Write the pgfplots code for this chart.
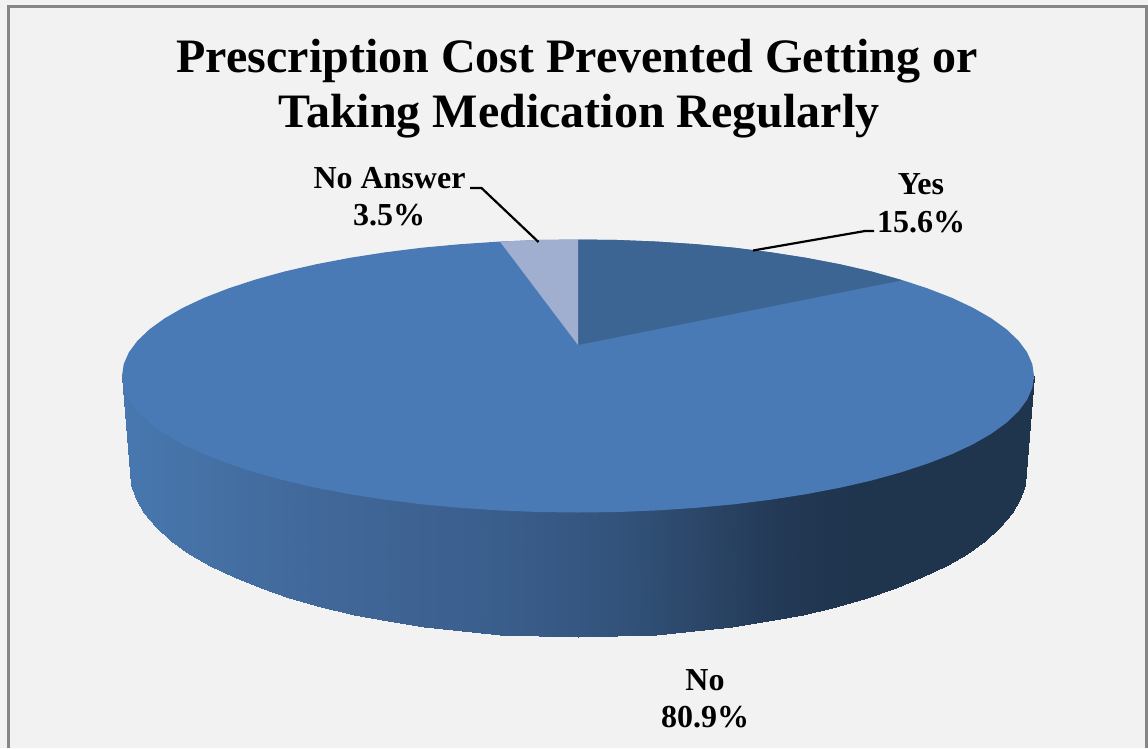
\documentclass[border=0pt]{standalone}
\usepackage{pgfplots}
\pgfplotsset{compat=1.18}
\usepackage{fontspec}
\setmainfont{Liberation Serif}
\definecolor{bgc}{HTML}{F2F2F2}
\definecolor{framec}{HTML}{868686}
\definecolor{noc}{HTML}{4A7AB5}
\definecolor{yesc}{HTML}{3D6593}
\definecolor{nac}{HTML}{A0AFD0}
\begin{document}
\begin{tikzpicture}
  \begin{axis}[
    width=1148pt, height=748pt, scale only axis,
    xmin=0, xmax=1148, ymin=0, ymax=748,
    y dir=reverse, hide axis,
    colormap={side}{
      rgb255(122)=(71,120,175) rgb255(300)=(66,105,155) rgb255(500)=(58,94,140)
      rgb255(624)=(50,82,122) rgb255(700)=(43,70,104) rgb255(789)=(34,56,84)
      rgb255(860)=(31,52,77) rgb255(1034)=(31,52,77)},
    point meta min=122, point meta max=1034,
  ]
  %% background and frame (bottom edge runs off the picture)
  \addplot[fill=bgc, draw=none] coordinates {(0,0) (1148,0) (1148,748) (0,748) (0,0)};
  \addplot[color=framec, line width=3pt] coordinates {(8,748) (8,6) (1146,6) (1146,748)};

  %% side of the pie, top rim (tucked under the top face) / bottom rim pairs
  \addplot[surf, shader=interp, mesh/ordering=y varies, mesh/rows=2, point meta=x] table {
    x y
    122 376
    130.7 484.6
    123.7 385
    130.7 484.6
    128.9 392
    135.8 499
    137.5 403
    144.3 513.2
    149.5 414
    156.1 527.1
    164.7 425
    171.1 540.6
    183.1 436
    189.2 553.5
    204.4 446
    210.2 565.8
    228.7 455
    234.1 577.3
    255.6 464
    260.5 588.1
    284.9 472
    289.4 597.9
    316.4 479
    320.5 606.8
    350 486
    353.5 614.6
    385.3 491
    388.3 621.4
    422 496
    424.4 626.9
    460 499
    461.8 631.3
    498.8 502
    500.1 634.5
    538.2 504
    538.8 636.4
    578 504
    578 637
    617.8 504
    617.2 636.4
    657.2 502
    656.1 634.5
    696 499
    694.2 631.3
    734 496
    731.6 626.9
    770.7 491
    767.7 621.4
    806 486
    802.5 614.6
    839.6 479
    835.5 606.8
    871.1 472
    866.6 597.9
    900.4 464
    895.5 588.1
    927.3 455
    922.1 577.3
    951.6 446
    945.8 565.8
    972.9 436
    966.8 553.5
    991.3 425
    984.9 540.6
    1006.5 414
    999.9 527.1
    1018.5 403
    1011.7 513.2
    1027.1 392
    1020.2 499
    1032.3 385
    1025.3 484.6
    1034 376
    1025.3 484.6
  };

  %% top face: No 80.9
  \addplot[fill=noc, draw=none] coordinates {
    (122,376) (123.7,364.1) (128.9,352.3) (137.5,340.7) (149.5,329.3) (164.7,318.3)
    (183.1,307.7) (204.4,297.7) (228.7,288.3) (255.6,279.5) (284.9,271.4) (316.4,264.2)
    (350,257.8) (385.3,252.3) (422,247.7) (460,244.2) (498.8,241.6) (538.2,240) (578,239.5)
    (617.8,240) (657.2,241.6) (696,244.2) (734,247.7) (770.7,252.3) (806,257.8) (839.6,264.2)
    (871.1,271.4) (900.4,279.5) (927.3,288.3) (951.6,297.7) (972.9,307.7) (991.3,318.3)
    (1006.5,329.3) (1018.5,340.7) (1027.1,352.3) (1032.3,364.1) (1034,376)
    (1032.3,387.9) (1027.1,399.7) (1018.5,411.3) (1006.5,422.7) (991.3,433.7) (972.9,444.3)
    (951.6,454.3) (927.3,463.7) (900.4,472.5) (871.1,480.6) (839.6,487.8) (806,494.2)
    (770.7,499.7) (734,504.3) (696,507.8) (657.2,510.4) (617.8,512) (578,512.5)
    (538.2,512) (498.8,510.4) (460,507.8) (422,504.3) (385.3,499.7) (350,494.2) (316.4,487.8)
    (284.9,480.6) (255.6,472.5) (228.7,463.7) (204.4,454.3) (183.1,444.3) (164.7,433.7)
    (149.5,422.7) (137.5,411.3) (128.9,399.7) (123.7,387.9) (122,376)
  };
  %% Yes 15.6
  \addplot[fill=yesc, draw=none] coordinates {
    (578,345) (578,239.5) (617.8,240) (657.2,241.6) (696,244.2) (734,247.7) (770.7,252.3)
    (806,257.8) (839.6,264.2) (871.1,271.4) (902,280.3) (578,345)
  };
  %% No Answer 3.5
  \addplot[fill=nac, draw=none] coordinates {
    (578,345) (578,239.5) (538.2,240) (500,241.6) (578,345)
  };

  %% leader lines
  \addplot[color=black, line width=2.2pt] coordinates {(753,250.5) (865,231) (874,231)};
  \addplot[color=black, line width=2.2pt] coordinates {(470,188) (481.5,188) (538.5,242)};

  \node[anchor=base, font=\fontsize{48}{52}\selectfont\bfseries] at (axis cs:577,72) {Prescription Cost Prevented Getting or};
  \node[anchor=base, font=\fontsize{48}{52}\selectfont\bfseries] at (axis cs:579,127) {Taking Medication Regularly};
  \node[anchor=base, font=\fontsize{32}{36}\selectfont\bfseries] at (axis cs:389.5,188) {No Answer};
  \node[anchor=base, font=\fontsize{32}{36}\selectfont\bfseries] at (axis cs:389,225) {3.5\%};
  \node[anchor=base, font=\fontsize{32}{36}\selectfont\bfseries] at (axis cs:921,194) {Yes};
  \node[anchor=base, font=\fontsize{32}{36}\selectfont\bfseries] at (axis cs:921,232) {15.6\%};
  \node[anchor=base, font=\fontsize{32}{36}\selectfont\bfseries] at (axis cs:705,690) {No};
  \node[anchor=base, font=\fontsize{32}{36}\selectfont\bfseries] at (axis cs:705,727) {80.9\%};
  \end{axis}
\end{tikzpicture}
\end{document}
